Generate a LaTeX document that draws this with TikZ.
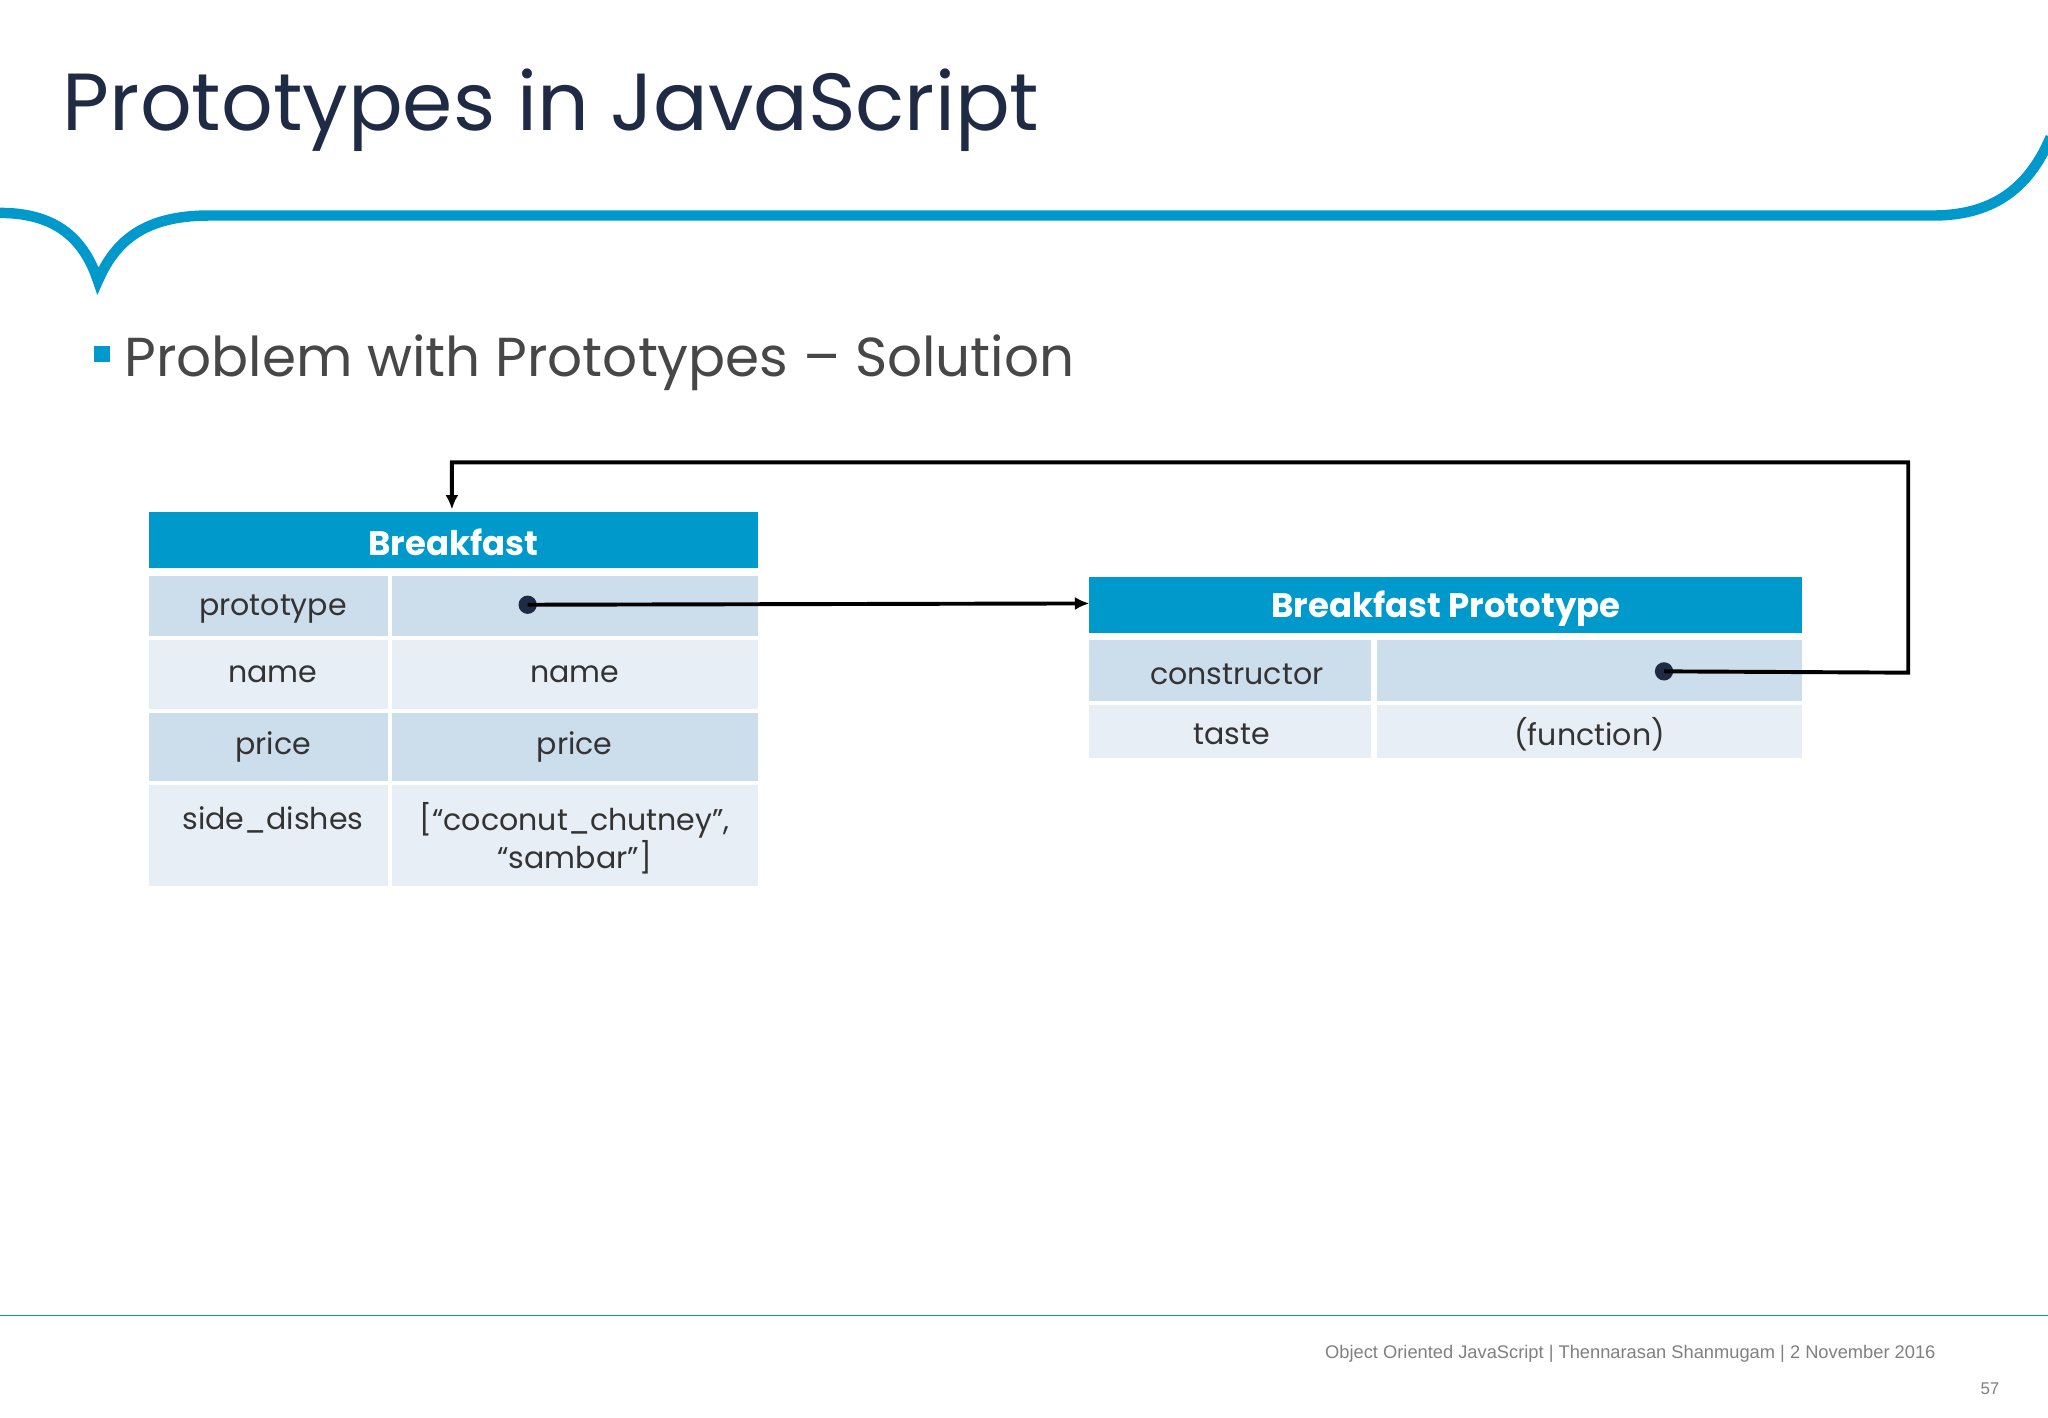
\documentclass[tikz,border=0pt]{standalone}
\usepackage{fontspec}
\setmainfont{Poppins}
\newfontfamily\foot{Liberation Sans}
\usetikzlibrary{arrows.meta}
\definecolor{hdr}{HTML}{0099CC}
\definecolor{dk}{HTML}{CCDDEB}
\definecolor{lt}{HTML}{E8EEF6}
\definecolor{navy}{HTML}{1F2A44}
\definecolor{txt}{HTML}{333333}
\begin{document}
\begin{tikzpicture}[x=1pt,y=-1pt,
 cell/.style={inner sep=0pt,font=\fontsize{23}{29}\selectfont\color{txt},align=center},
 hd/.style={inner sep=0pt,font=\fontsize{26}{30}\selectfont\bfseries\color{white}},
 dot/.style={circle,fill=navy,inner sep=0pt,minimum size=14pt},
 arr/.style={line width=3pt,-{Latex[length=11pt,width=10pt]}}]
\useasboundingbox[fill=white] (0,0) rectangle (1568,1085);
% title
\node[anchor=base west,inner sep=0pt,font=\fontsize{62}{66}\selectfont\color{navy}] (title) at (48,100) {Prototypes in JavaScript};
% swoosh
\draw[hdr,line width=8pt] (0,163) .. controls (45,163) and (65,185) .. (75,215) .. controls (88,185) and (110,165) .. (160,165) -- (1480,165) .. controls (1530,165) and (1555,140) .. (1570,105);
\fill[hdr] (72,265) rectangle (84,277);
\node[anchor=base west,inner sep=0pt,font=\fontsize{42}{46}\selectfont\color{txt!90}] (sub) at (95,288) {Problem with Prototypes – Solution};
% Breakfast table
\fill[hdr] (114,392) rectangle (580,435);
\node[hd] (bh) at (347,415) {Breakfast};
\fill[dk] (114,441) rectangle (297,487); \fill[dk] (300,441) rectangle (580,487);
\fill[lt] (114,490) rectangle (297,543); \fill[lt] (300,490) rectangle (580,543);
\fill[dk] (114,546) rectangle (297,598); \fill[dk] (300,546) rectangle (580,598);
\fill[lt] (114,601) rectangle (297,678); \fill[lt] (300,601) rectangle (580,678);
\node[cell] (p1) at (209,466) {prototype};
\node[cell] (n1) at (209,516) {name};
\node[cell] (n2) at (440,516) {name};
\node[cell] (pr1) at (209,572) {price};
\node[cell] (pr2) at (440,572) {price};
\node[cell] (s1) at (209,628) {side\_dishes};
\node[cell] (s2) at (440,642) {[“coconut\_chutney”,\\“sambar”]};
\node[dot] (d1) at (404,463) {};
% Prototype table
\fill[hdr] (834,442) rectangle (1380,485);
\node[hd] (ph) at (1107,466) {Breakfast Prototype};
\fill[dk] (834,490) rectangle (1050,537); \fill[dk] (1054,490) rectangle (1380,537);
\fill[lt] (834,540) rectangle (1050,580); \fill[lt] (1054,540) rectangle (1380,580);
\node[cell] (c1) at (947,516) {constructor};
\node[cell] (t1) at (943,562) {taste};
\node[cell] (t2) at (1217,562) {(function)};
\node[dot] (d2) at (1274,514) {};
\coordinate (pl) at (834,462);
\coordinate (bt) at (346,390);
\draw[arr] (d1.center) -- (pl);
\draw[arr] (d2.center) -- (1461,515) -- (1461,354) -- (346,354) -- (bt);
% footer
\draw[hdr,line width=1.2pt] (0,1007) -- (1568,1007);
\node[anchor=base east,inner sep=0pt,font=\foot\fontsize{14}{16}\selectfont\color{gray}] (ft) at (1482,1040) {Object Oriented JavaScript | Thennarasan Shanmugam | 2 November 2016};
\node[anchor=base east,inner sep=0pt,font=\foot\fontsize{13}{16}\selectfont\color{gray}] (pg) at (1531,1068) {57};
\end{tikzpicture}
\end{document}
